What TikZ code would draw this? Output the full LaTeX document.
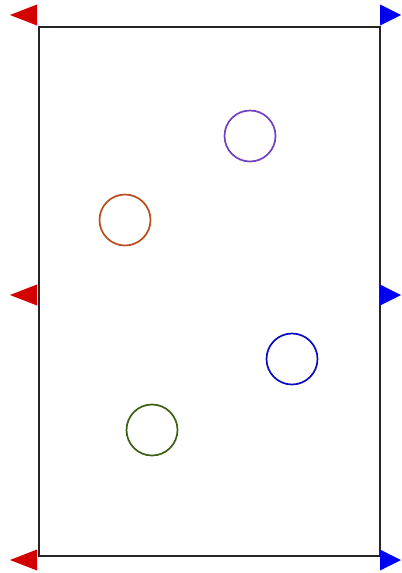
\documentclass[tikz,border=0pt]{standalone}
\usepackage{tikz}
\usetikzlibrary{positioning}
\definecolor{flagred}{RGB}{210,0,0}
\definecolor{flagblue}{RGB}{0,0,245}
\definecolor{ringpurple}{RGB}{112,64,190}
\definecolor{ringorange}{RGB}{185,75,30}
\definecolor{ringblue}{RGB}{10,10,190}
\definecolor{ringgreen}{RGB}{60,95,20}
\tikzstyle{ring}=[draw,circle,line width=2.4pt,minimum size=2.55cm,inner sep=0pt]
\tikzstyle{frame}=[draw=black!85,line width=2pt]
\newcommand{\leftflag}[1]{\fill[flagred] (37,#1-10.5) -- (10,#1) -- (37,#1+10.5) -- cycle;}
\newcommand{\rightflag}[1]{\fill[flagblue] (380,#1-10.5) -- (401,#1) -- (380,#1+10.5) -- cycle;}

\begin{document}
\begin{tikzpicture}[x=0.05cm,y=-0.05cm]
    \useasboundingbox (0,0) rectangle (401,573);
    \fill[white] (0,0) rectangle (401,573);
    \draw[frame] (39,27) rectangle (380,556);
    % flags on both sides
    \foreach \y in {15,295,560} {
        \leftflag{\y}
        \rightflag{\y}
    }
    % rings
    \node[ring, draw=ringpurple] (purple) at (250,136) {};
    \node[ring, draw=ringorange] (orange) at (125,220) {};
    \node[ring, draw=ringblue] (blue) at (292,359) {};
    \node[ring, draw=ringgreen] (green) at (152,430) {};
\end{tikzpicture}
\end{document}
